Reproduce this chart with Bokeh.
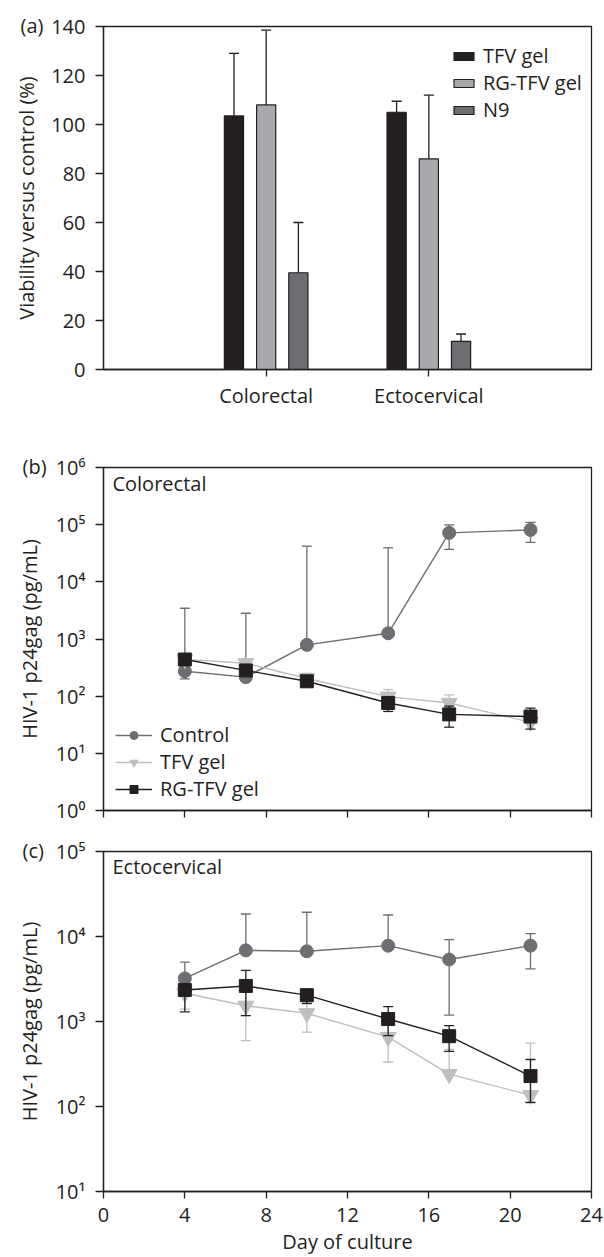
from bokeh.plotting import figure
from bokeh.layouts import column
from bokeh.models import (FactorRange, Range1d, FixedTicker, ColumnDataSource,
                          Legend, LegendItem, Label, CustomJSTickFormatter, Title)
from bokeh.transform import dodge
from bokeh.embed import file_html
from bokeh.resources import INLINE

# ---------------- data ----------------
# (a) viability versus control (%)
tissues = ["Colorectal", "Ectocervical"]
viab_names = ["TFV gel", "RG-TFV gel", "N9"]
viab_tfv = [103.5, 105.0]
viab_tfv_hi = [129.0, 109.5]
viab_rg = [108.0, 86.0]
viab_rg_hi = [138.5, 112.0]
viab_n9 = [39.5, 11.5]
viab_n9_hi = [60.0, 14.5]

# (b)/(c) HIV-1 p24gag (pg/mL) by day of culture
days = [4, 7, 10, 14, 17, 21]
line_names = ["Control", "TFV gel", "RG-TFV gel"]

colo_control = [273, 215, 790, 1260, 71800, 81000]
colo_control_hi = [3450, 2820, 42000, 39400, 99000, 110000]
colo_control_lo = [200, 215, 790, 1260, 37000, 49000]
colo_tfv = [440, 377, 204, 98, 76, 35]
colo_tfv_hi = [460, 420, 251, 131, 105, 38]
colo_tfv_lo = [430, 370, 200, 95, 74, 33]
colo_rg = [438, 282, 182, 76, 48, 44]
colo_rg_hi = [440, 285, 195, 92, 67, 62]
colo_rg_lo = [436, 280, 170, 54, 28.7, 26.5]

ecto_control = [3215, 6870, 6700, 7800, 5360, 7800]
ecto_control_hi = [5000, 18400, 19300, 17900, 9170, 10800]
ecto_control_lo = [3000, 6870, 6700, 7800, 1190, 4170]
ecto_tfv = [2150, 1530, 1250, 655, 240, 136]
ecto_tfv_hi = [2400, 2500, 1600, 1000, 470, 557]
ecto_tfv_lo = [1400, 597, 748, 334, 240, 110]
ecto_rg = [2350, 2620, 2040, 1070, 672, 228]
ecto_rg_hi = [2600, 4000, 2300, 1500, 893, 357]
ecto_rg_lo = [1300, 1170, 1630, 683, 445, 112]

day_ticks = [0, 4, 8, 12, 16, 20, 24]
colo_decades = [1, 10, 100, 1000, 10000, 100000, 1000000]
ecto_decades = [10, 100, 1000, 10000, 100000]
viab_ticks = [0, 20, 40, 60, 80, 100, 120, 140]

# ---------------- style ----------------
FONT = "Open Sans"
INK = "#231f20"
C_CTRL = "#6d6e71"
C_TFV = "#bcbec0"
C_RG = "#231f20"
BAR_COLORS = ["#231f20", "#a7a9ac", "#6d6e71"]
W = 604
FS = "20px"

SUP = CustomJSTickFormatter(code="""
const sup = {"0":"\u2070","1":"\u00b9","2":"\u00b2","3":"\u00b3","4":"\u2074",
             "5":"\u2075","6":"\u2076","7":"\u2077","8":"\u2078","9":"\u2079","-":"\u207b"};
const e = Math.round(Math.log10(tick));
return "10" + String(e).split("").map(c => sup[c]).join("");
""")
BLANK = CustomJSTickFormatter(code='return "";')


def style(p, label_standoff):
    for ax in p.axis:
        ax.axis_line_color = INK
        ax.axis_line_width = 1.3
        ax.major_tick_line_color = INK
        ax.major_tick_line_width = 1.3
        ax.major_tick_in = 0
        ax.major_tick_out = 7
        ax.minor_tick_line_color = None
        ax.major_label_text_font = FONT
        ax.major_label_text_font_size = FS
        ax.major_label_text_color = INK
        ax.axis_label_text_font = FONT
        ax.axis_label_text_font_size = FS
        ax.axis_label_text_font_style = "normal"
        ax.axis_label_text_color = INK
    p.yaxis.major_tick_out = 8
    p.yaxis.major_label_standoff = 10
    p.yaxis.axis_label_standoff = label_standoff
    p.xgrid.grid_line_color = None
    p.ygrid.grid_line_color = None
    p.outline_line_color = INK
    p.outline_line_width = 1.3
    p.outline_line_alpha = 1.0
    p.background_fill_color = "white"
    p.border_fill_color = "white"


def panel_letter(p, txt, offset):
    """Panel letter as a left-aligned title shifted left of the frame, level with its top."""
    p.add_layout(Title(text=txt, align="left", offset=offset, standoff=-24,
                       vertical_align="bottom", text_font=FONT, text_font_size=FS,
                       text_font_style="normal", text_color=INK), "above")


# ---------------- (a) ----------------
pa = figure(width=W, height=428,
            x_range=FactorRange(*tissues, range_padding=0.5, range_padding_units="absolute"),
            y_range=Range1d(0, 140),
            output_backend="svg", toolbar_location=None,
            min_border_left=103, min_border_right=13, min_border_top=26, min_border_bottom=59)
pa.yaxis.ticker = FixedTicker(ticks=viab_ticks)
pa.yaxis.axis_label = "Viability versus control (%)"
style(pa, 8)
pa.xaxis.major_label_standoff = 5

offsets = [-0.198, 0.0, 0.198]
bar_items = []
for name, vals, his, col, off in zip(viab_names, [viab_tfv, viab_rg, viab_n9],
                                     [viab_tfv_hi, viab_rg_hi, viab_n9_hi], BAR_COLORS, offsets):
    src = ColumnDataSource(dict(cat=tissues, val=vals, hi=his))
    xx = dodge("cat", off, range=pa.x_range)
    pa.segment(x0=xx, y0="val", x1=xx, y1="hi", source=src, line_color=INK, line_width=1.3)
    pa.scatter(x=xx, y="hi", marker="dash", size=10, source=src, line_color=INK, line_width=1.3)
    r = pa.vbar(x=xx, top="val", width=0.118, source=src, fill_color=col,
                line_color=INK, line_width=1.2)
    bar_items.append(LegendItem(label=name, renderers=[r]))

leg_a = Legend(items=bar_items, location=(348, 246), glyph_width=25, glyph_height=10,
               label_standoff=7, spacing=0, padding=0, margin=0,
               label_text_font=FONT, label_text_font_size=FS, label_text_color=INK,
               border_line_color=None, background_fill_alpha=0)
pa.add_layout(leg_a)
panel_letter(pa, "(a)", -83)


# ---------------- line panels ----------------
def line_panel(height, yr, decades, series, border_top, border_bottom, show_labels):
    p = figure(width=W, height=height, x_range=Range1d(0, 24), y_range=yr,
               y_axis_type="log", output_backend="svg", toolbar_location=None,
               min_border_left=103, min_border_right=13,
               min_border_top=border_top, min_border_bottom=border_bottom)
    p.yaxis.ticker = FixedTicker(ticks=decades)
    p.yaxis.formatter = SUP
    p.xaxis.ticker = FixedTicker(ticks=day_ticks)
    p.yaxis.axis_label = "HIV-1 p24gag (pg/mL)"
    style(p, 10)
    if not show_labels:
        p.xaxis.formatter = BLANK
        p.xaxis.major_label_standoff = 0
    else:
        p.xaxis.axis_label = "Day of culture"
        p.xaxis.major_label_standoff = 9
        p.xaxis.axis_label_standoff = 3
    items = []
    for name, vals, his, los, col, marker, size in series:
        src = ColumnDataSource(dict(day=days, val=vals, hi=his, lo=los))
        rl = p.line("day", "val", source=src, line_color=col, line_width=1.4)
        p.segment(x0="day", y0="lo", x1="day", y1="hi", source=src, line_color=col, line_width=1.3)
        p.scatter("day", "hi", marker="dash", size=10, source=src, line_color=col, line_width=1.3)
        p.scatter("day", "lo", marker="dash", size=10, source=src, line_color=col, line_width=1.3)
        rm = p.scatter("day", "val", marker=marker, size=size, source=src,
                       fill_color=col, line_color=col)
        items.append(LegendItem(label=name, renderers=[rl, rm]))
    return p, items


pb, items_b = line_panel(404, Range1d(1, 1e6), colo_decades, [
    ("Control", colo_control, colo_control_hi, colo_control_lo, C_CTRL, "circle", 13),
    ("TFV gel", colo_tfv, colo_tfv_hi, colo_tfv_lo, C_TFV, "inverted_triangle", 16),
    ("RG-TFV gel", colo_rg, colo_rg_hi, colo_rg_lo, C_RG, "square", 13),
], 39, 22, False)
leg_b = Legend(items=items_b, location=(12, 8), glyph_width=37, glyph_height=20,
               label_standoff=8, spacing=0, padding=0, margin=0,
               label_text_font=FONT, label_text_font_size=FS, label_text_color=INK,
               border_line_color=None, background_fill_alpha=0)
pb.add_layout(leg_b)
pb.add_layout(Label(x=0.44, y=10 ** 5.72, text="Colorectal", text_font=FONT,
                    text_font_size=FS, text_color=INK, text_baseline="middle"))
panel_letter(pb, "(b)", -81)

pc, _ = line_panel(425, Range1d(10, 1e5), ecto_decades, [
    ("Control", ecto_control, ecto_control_hi, ecto_control_lo, C_CTRL, "circle", 13),
    ("TFV gel", ecto_tfv, ecto_tfv_hi, ecto_tfv_lo, C_TFV, "inverted_triangle", 16),
    ("RG-TFV gel", ecto_rg, ecto_rg_hi, ecto_rg_lo, C_RG, "square", 13),
], 19, 63, True)
pc.add_layout(Label(x=0.44, y=10 ** 4.82, text="Ectocervical", text_font=FONT,
                    text_font_size=FS, text_color=INK, text_baseline="middle"))
panel_letter(pc, "(c)", -81)

layout = column(pa, pb, pc, spacing=0)
open("out.html", "w").write(file_html(layout, INLINE))
